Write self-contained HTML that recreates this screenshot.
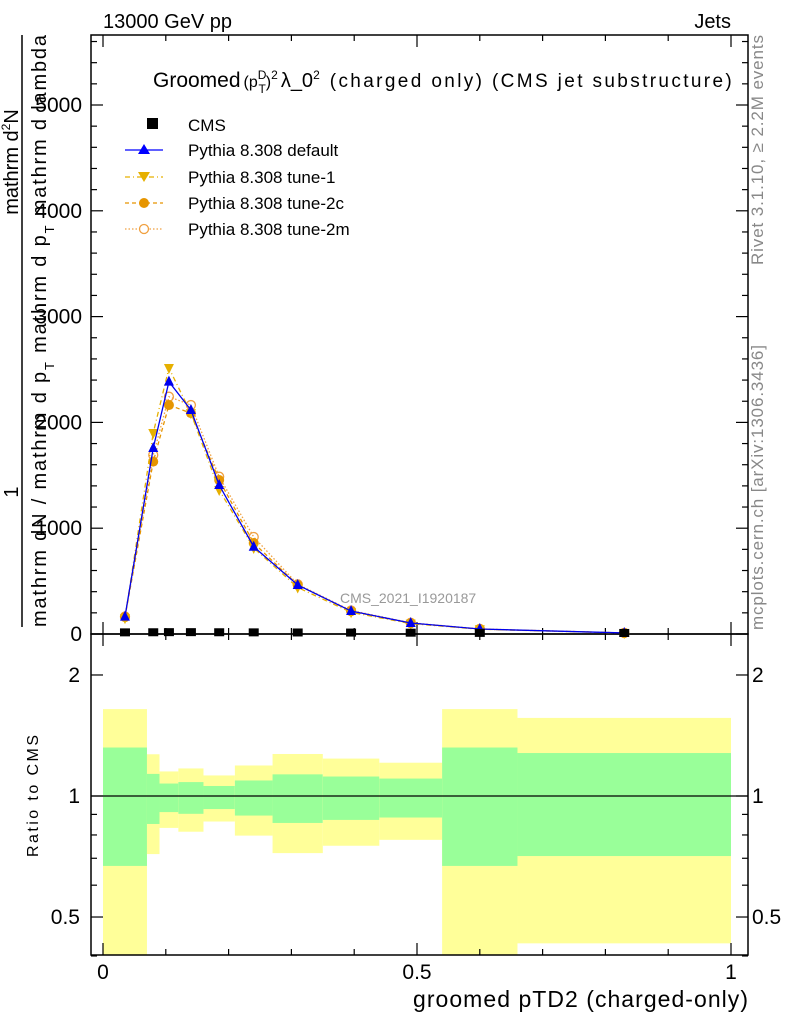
<!DOCTYPE html>
<html><head><meta charset="utf-8"><style>
body{margin:0;background:#fff}
svg{font-family:"Liberation Sans",sans-serif;display:block}
</style></head><body>
<svg id="c" width="786" height="1024" viewBox="0 0 786 1024" xmlns="http://www.w3.org/2000/svg">
<g id="bands"></g>
<g id="axes"></g>
<g id="series"></g>
<text x="103" y="28" font-size="20">13000 GeV pp</text>
<text x="731" y="28" font-size="20" text-anchor="end">Jets</text>
<text x="153" y="87" font-size="21">Groomed<tspan font-size="16" dx="3">(p</tspan><tspan font-size="12" dy="-8">D</tspan><tspan font-size="12" dx="-8" dy="14">T</tspan><tspan font-size="16" dy="-6">)</tspan><tspan font-size="12" dy="-8">2</tspan><tspan font-size="20" dy="8" dx="3">λ_0</tspan><tspan font-size="12" dy="-8">2</tspan><tspan font-size="19" dy="8" dx="10" textLength="402">(charged only) (CMS jet substructure)</tspan></text>
<g>
<rect x="147" y="118" width="11" height="11" fill="#000"/>
<text x="188" y="131" font-size="17">CMS</text>
<line x1="125" y1="150" x2="163" y2="150" stroke="#00f" stroke-width="1.3"/>
<polygon points="144,144 150,154 138,154" fill="#00f"/>
<text x="188" y="156" font-size="17">Pythia 8.308 default</text>
<line x1="125" y1="177" x2="163" y2="177" stroke="#e6b000" stroke-width="1.2" stroke-dasharray="5,3,1,3"/>
<polygon points="138,172 150,172 144,182" fill="#e6b000"/>
<text x="188" y="183" font-size="17">Pythia 8.308 tune-1</text>
<line x1="125" y1="203" x2="163" y2="203" stroke="#e69500" stroke-width="1.2" stroke-dasharray="4,3"/>
<circle cx="144" cy="203" r="5" fill="#e69500"/>
<text x="188" y="209" font-size="17">Pythia 8.308 tune-2c</text>
<line x1="125" y1="229" x2="163" y2="229" stroke="#f0a040" stroke-width="1.2" stroke-dasharray="1.5,2"/>
<circle cx="144" cy="229" r="4.5" fill="#fff" stroke="#f0a040" stroke-width="1.3"/>
<text x="188" y="235" font-size="17">Pythia 8.308 tune-2m</text>
</g>
<text x="340" y="603" font-size="14" fill="#999">CMS_2021_I1920187</text>
<g font-size="20">
<line x1="22" y1="35" x2="22" y2="627" stroke="#000" stroke-width="1.5"/>
<text transform="translate(18,492) rotate(-90)" text-anchor="middle">1</text>
<text transform="translate(18,162) rotate(-90)" text-anchor="middle">mathrm d<tspan font-size="12" dy="-8">2</tspan><tspan dy="8">N</tspan></text>
<text transform="translate(46,627) rotate(-90)" textLength="592">mathrm dN / mathrm d p<tspan font-size="13" dy="8">T</tspan><tspan dy="-8"> mathrm d p</tspan><tspan font-size="13" dy="8">T</tspan><tspan dy="-8"> mathrm d lambda</tspan></text>
</g>
<text transform="translate(38,857) rotate(-90)" font-size="16" textLength="122">Ratio to CMS</text>
<text x="748" y="1007" font-size="23" text-anchor="end" textLength="335">groomed pTD2 (charged-only)</text>
<text transform="translate(763,265) rotate(-90)" font-size="17" fill="#888" textLength="230">Rivet 3.1.10, ≥ 2.2M events</text>
<text transform="translate(763,630) rotate(-90)" font-size="17" fill="#888" textLength="285">mcplots.cern.ch [arXiv:1306.3436]</text>
</svg>
<script>
const binEdges=[0,0.07,0.09,0.12,0.16,0.21,0.27,0.35,0.44,0.54,0.66,1.0];
const cmsVals=[6,7,8,8,7,6,5,4,3,1,0.4];
const defaultVals=[164,1758,2385,2117,1408,825,463,217,104,47,10];
const tune1Vals=[150,1900,2514,2088,1361,813,440,205,98,45,9];
const tune2cVals=[160,1629,2164,2088,1455,860,463,215,102,46,10];
const tune2mVals=[165,1692,2243,2164,1487,917,470,222,106,48,10];
const greenUp=[1.32,1.135,1.074,1.083,1.059,1.093,1.132,1.118,1.105,1.32,1.279];
const greenLo=[0.67,0.852,0.912,0.903,0.928,0.894,0.857,0.872,0.884,0.67,0.709];
const yellowUp=[1.645,1.27,1.151,1.171,1.125,1.191,1.272,1.239,1.21,1.645,1.564];
const yellowLo=[0.3,0.717,0.833,0.815,0.864,0.797,0.721,0.752,0.778,0.3,0.43];
const mainTicks=[0,1000,2000,3000,4000,5000];
const ratioTicks=[0.5,1,2];
const xTicks=[0,0.5,1];

const NS="http://www.w3.org/2000/svg";
const L=91,R=748,T1=35,B1=634,B2=955;
const X=v=>103+628*v;
const Y=v=>634-v*0.1058;
const YR=r=>796-402*Math.log10(r);
const clampR=y=>Math.max(B1,Math.min(B2,y));
function mk(tag,attrs,parent){const e=document.createElementNS(NS,tag);for(const k in attrs)e.setAttribute(k,attrs[k]);parent.appendChild(e);return e;}
const bands=document.getElementById('bands'),axes=document.getElementById('axes'),series=document.getElementById('series');

for(let i=0;i<cmsVals.length;i++){
  const x1=X(binEdges[i]),x2=X(binEdges[i+1]);
  const yb=mk('rect',{x:x1,y:clampR(YR(yellowUp[i])),width:x2-x1,height:clampR(YR(yellowLo[i]))-clampR(YR(yellowUp[i])),fill:'#ffff99'},bands);
  
  
  const gb=mk('rect',{x:x1,y:YR(greenUp[i]),width:x2-x1,height:YR(greenLo[i])-YR(greenUp[i]),fill:'#99ff99'},bands);
  
  
}
const ref=mk('line',{x1:L,x2:R,y1:YR(1),y2:YR(1),stroke:'#000','stroke-width':1.2},bands);



const f1=mk('rect',{x:L,y:T1,width:R-L,height:B1-T1,fill:'none',stroke:'#000','stroke-width':1.5},axes);


const f2=mk('rect',{x:L,y:B1,width:R-L,height:B2-B1,fill:'none',stroke:'#000','stroke-width':1.5},axes);


for(let k=0;k<=10;k++){
  const v=k/10,x=X(v),len=(k%5==0)?12:6;
  [[T1,1],[B1,-1],[B1,1],[B2,-1]].forEach(([y0,d])=>mk('line',{x1:x,x2:x,y1:y0,y2:y0+d*len,stroke:'#000','stroke-width':1.2},axes));
}
xTicks.forEach(v=>{const t=mk('text',{x:X(v),y:979,'font-size':21,'text-anchor':'middle'},axes);t.textContent=String(v);

});
for(let v=0;v<=5600;v+=200){const y=Y(v),len=(v%1000==0)?12:6;
  mk('line',{x1:L,x2:L+len,y1:y,y2:y,stroke:'#000','stroke-width':1.2},axes);
  mk('line',{x1:R,x2:R-len,y1:y,y2:y,stroke:'#000','stroke-width':1.2},axes);}
mainTicks.forEach(v=>{const t=mk('text',{x:82,y:Y(v)+7,'font-size':21,'text-anchor':'end'},axes);t.textContent=String(v);

});
[0.4,0.5,0.6,0.7,0.8,0.9,1,2].forEach(v=>{const y=YR(v),len=(ratioTicks.includes(v))?12:6;
  mk('line',{x1:L,x2:L+len,y1:y,y2:y,stroke:'#000','stroke-width':1.2},axes);
  mk('line',{x1:R,x2:R-len,y1:y,y2:y,stroke:'#000','stroke-width':1.2},axes);});
ratioTicks.forEach(v=>{
  const t=mk('text',{x:80,y:YR(v)+7,'font-size':21,'text-anchor':'end'},axes);t.textContent=String(v);
  
  
  const t2=mk('text',{x:752,y:YR(v)+7,'font-size':21},axes);t2.textContent=String(v);
  
  
});

const centers=binEdges.slice(0,-1).map((e,i)=>(e+binEdges[i+1])/2);
function drawSeries(vals,color,dash,marker,name){
  const g=mk('g',{},series);
  
  
  mk('polyline',{points:vals.map((v,i)=>X(centers[i])+','+Y(v)).join(' '),fill:'none',stroke:color,'stroke-width':1.3,'stroke-dasharray':dash},g);
  vals.forEach((v,i)=>{const x=X(centers[i]),y=Y(v);let m;
    if(marker=='up')m=mk('polygon',{points:`${x},${y-6} ${x+5},${y+4} ${x-5},${y+4}`,fill:color},g);
    else if(marker=='down')m=mk('polygon',{points:`${x-5},${y-4} ${x+5},${y-4} ${x},${y+6}`,fill:color},g);
    else if(marker=='dot')m=mk('circle',{cx:x,cy:y,r:5,fill:color},g);
    else m=mk('circle',{cx:x,cy:y,r:4.5,fill:'none',stroke:color,'stroke-width':1.3},g);
    
    });
}
drawSeries(tune2mVals,'#f0a040','1.5,2','open','series-tune2m');
drawSeries(tune2cVals,'#e69500','4,3','dot','series-tune2c');
drawSeries(tune1Vals,'#e6b000','5,3,1,3','down','series-tune1');
drawSeries(defaultVals,'#0000ee','','up','series-default');
const cg=mk('g',{},series);


cmsVals.forEach((v,i)=>{const r=mk('rect',{x:X(centers[i])-5,y:Y(v)-5,width:10,height:8,fill:'#000'},cg);

});
</script>
</body></html>
